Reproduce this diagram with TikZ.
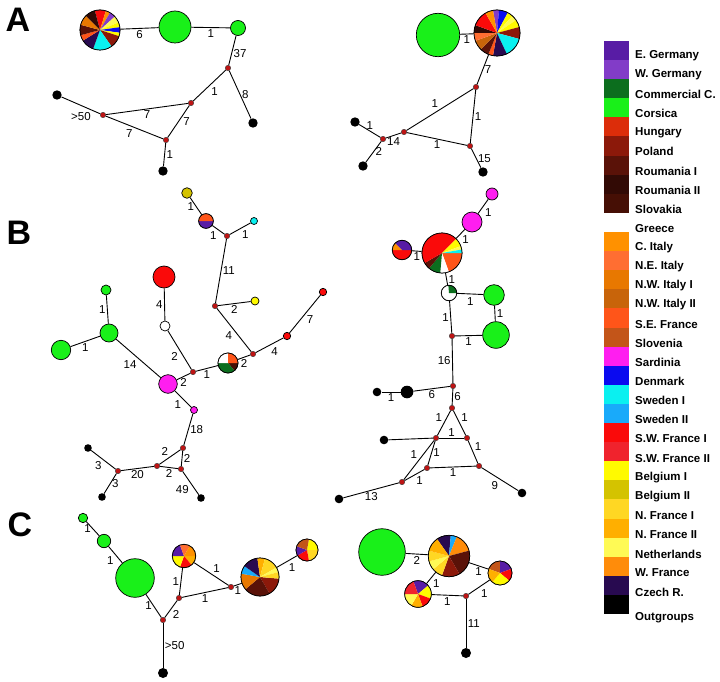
\documentclass[tikz,border=0pt]{standalone}
\usepackage{fontspec}
\setmainfont{Liberation Sans}
\usepackage{xcolor}
\usetikzlibrary{math}

\definecolor{EGermany}{RGB}{88,28,165}
\definecolor{WGermany}{RGB}{130,60,200}
\definecolor{CommC}{RGB}{12,110,30}
\definecolor{Corsica}{RGB}{25,240,25}
\definecolor{Hungary}{RGB}{220,45,10}
\definecolor{Poland}{RGB}{140,25,10}
\definecolor{RoumI}{RGB}{90,18,8}
\definecolor{RoumII}{RGB}{50,10,5}
\definecolor{Slovakia}{RGB}{70,15,5}
\definecolor{Greece}{RGB}{255,255,255}
\definecolor{CItaly}{RGB}{255,145,0}
\definecolor{NEItaly}{RGB}{255,110,50}
\definecolor{NWItalyI}{RGB}{232,120,0}
\definecolor{NWItalyII}{RGB}{200,100,10}
\definecolor{SEFrance}{RGB}{255,85,25}
\definecolor{Slovenia}{RGB}{195,85,25}
\definecolor{Sardinia}{RGB}{255,30,240}
\definecolor{Denmark}{RGB}{10,10,240}
\definecolor{SwedenI}{RGB}{10,240,240}
\definecolor{SwedenII}{RGB}{25,170,250}
\definecolor{SWFranceI}{RGB}{250,10,10}
\definecolor{SWFranceII}{RGB}{240,35,45}
\definecolor{BelgiumI}{RGB}{255,250,0}
\definecolor{BelgiumII}{RGB}{212,195,0}
\definecolor{NFranceI}{RGB}{255,215,35}
\definecolor{NFranceII}{RGB}{255,175,0}
\definecolor{Netherlands}{RGB}{255,250,85}
\definecolor{WFrance}{RGB}{255,140,10}
\definecolor{CzechR}{RGB}{40,10,80}
\definecolor{Outgroup}{RGB}{0,0,0}
\definecolor{median}{RGB}{190,20,20}

\tikzset{
hap/.style={circle, draw=black, line width=0.7pt, inner sep=0pt, minimum size=2*#1},
med/.style={circle, draw=black!75, fill=median, line width=0.4pt, inner sep=0pt, minimum size=5.5},
outg/.style={circle, fill=black, inner sep=0pt, minimum size=2*#1},
link/.style={line width=0.9pt},
lab/.style={font=\fontsize{11.5}{13}\selectfont, inner sep=1.5pt},
leg/.style={font=\fontsize{11.5}{13}\selectfont\bfseries, inner sep=0pt, anchor=west},
panel/.style={font=\fontsize{34}{34}\selectfont\bfseries, inner sep=0pt},
}

% slices: screen angles, clockwise from east
\newcommand{\hapie}[3]{%
\foreach \angA/\angB/\slcol in {#3}{
\fill[\slcol] (#1.center) -- ++(\angA:#2) arc[start angle=\angA, end angle=\angB, radius=#2] -- cycle;
}
\draw[line width=0.7pt] (#1.center) circle[radius=#2];
}

\begin{document}
\begin{tikzpicture}[x=1pt,y=-1pt]
\tikzmath{
\boxh=19.1;
\txth=19.15;
}
\useasboundingbox (0,0) rectangle (720,682);

\node[panel] (pA) at (18,20) {A};
\node[panel] (pB) at (19,233) {B};
\node[panel] (pC) at (20,525) {C};

% A left
\node[hap=20] (aLpie) at (100,30) {};
\node[hap=16, fill=Corsica] (aLg1) at (175,27) {};
\node[hap=7.5, fill=Corsica] (aLg2) at (238,28) {};
\node[med] (aLm1) at (228,68) {};
\node[outg=4.7] (aLo1) at (253,123) {};
\node[med] (aLm2) at (191,103) {};
\node[med] (aLm3) at (103,115) {};
\node[outg=4.7] (aLo2) at (57,95) {};
\node[med] (aLm4) at (166,140) {};
\node[outg=4.7] (aLo3) at (163,171) {};

\draw[link] (aLpie) -- node[lab, below] {6} (aLg1);
\draw[link] (aLg1) -- node[lab, below] {1} (aLg2);
\draw[link] (aLg2) -- node[lab, right, pos=0.6] {37} (aLm1);
\draw[link] (aLm1) -- node[lab, right] {8} (aLo1);
\draw[link] (aLm1) -- node[lab, below right] {1} (aLm2);
\draw[link] (aLm2) -- node[lab, below] {7} (aLm3);
\draw[link] (aLm3) -- node[lab, below=5pt] {>50} (aLo2);
\draw[link] (aLm3) -- node[lab, below left] {7} (aLm4);
\draw[link] (aLm2) -- node[lab, right=3pt] {7} (aLm4);
\draw[link] (aLm4) -- node[lab, right] {1} (aLo3);

% A right
\node[hap=21.7, fill=Corsica] (aRg) at (438,35) {};
\node[hap=23] (aRpie) at (497,33) {};
\node[med] (aRm1) at (476,87) {};
\node[med] (aRm2) at (404,132) {};
\node[med] (aRm3) at (470,146) {};
\node[med] (aRm4) at (383,139) {};
\node[outg=4.7] (aRo1) at (355,122) {};
\node[outg=4.7] (aRo2) at (363,166) {};
\node[outg=4.7] (aRo3) at (483,172) {};

\draw[link] (aRg) -- node[lab, below] {1} (aRpie);
\draw[link] (aRpie) -- node[lab, right] {7} (aRm1);
\draw[link] (aRm1) -- node[lab, above left] {1} (aRm2);
\draw[link] (aRm1) -- node[lab, right] {1} (aRm3);
\draw[link] (aRm2) -- node[lab, below] {1} (aRm3);
\draw[link] (aRm2) -- node[lab, below] {14} (aRm4);
\draw[link] (aRm4) -- node[lab, above] {1} (aRo1);
\draw[link] (aRm4) -- node[lab, right] {2} (aRo2);
\draw[link] (aRm3) -- node[lab, right] {15} (aRo3);

% B left
\node[hap=5.3, fill=BelgiumII] (bLgold) at (187,193) {};
\node[hap=7.3] (bLpie1) at (206,221) {};
\node[med] (bLm1) at (227,236) {};
\node[hap=3.5, fill=SwedenI] (bLcyan) at (254,221) {};
\node[med] (bLm2) at (215,306) {};
\node[hap=4, fill=BelgiumI] (bLyel) at (255,301) {};
\node[med] (bLm3) at (253,354) {};
\node[hap=3.7, fill=SWFranceI] (bLred2) at (287,336) {};
\node[hap=3.7, fill=SWFranceI] (bLred3) at (323,292) {};
\node[hap=10] (bLpie2) at (228,363) {};
\node[hap=11, fill=SWFranceI] (bLred1) at (164,277) {};
\node[hap=5, fill=Greece] (bLwhite) at (165,326) {};
\node[med] (bLm4) at (193,372) {};
\node[hap=9.3, fill=Sardinia] (bLsar1) at (168,384) {};
\node[hap=5, fill=Corsica] (bLg1) at (106,290) {};
\node[hap=9, fill=Corsica] (bLg2) at (109,333) {};
\node[hap=9.7, fill=Corsica] (bLg3) at (61,350) {};
\node[hap=3.5, fill=Sardinia] (bLsar2) at (194,410) {};
\node[med] (bLm5) at (183,448) {};
\node[med] (bLm6) at (181,469) {};
\node[med] (bLm7) at (157,466) {};
\node[med] (bLm8) at (118,471) {};
\node[outg=3.8] (bLo1) at (88,448) {};
\node[outg=3.8] (bLo2) at (102,497) {};
\node[outg=3.8] (bLo3) at (201,498) {};

\draw[link] (bLgold) -- node[lab, left] {1} (bLpie1);
\draw[link] (bLpie1) -- node[lab, below left] {1} (bLm1);
\draw[link] (bLm1) -- node[lab, below right] {1} (bLcyan);
\draw[link] (bLm1) -- node[lab, right] {11} (bLm2);
\draw[link] (bLm2) -- node[lab, below] {2} (bLyel);
\draw[link] (bLm2) -- node[lab, below left] {4} (bLm3);
\draw[link] (bLm3) -- node[lab, below] {2} (bLpie2);
\draw[link] (bLm3) -- node[lab, below right] {4} (bLred2);
\draw[link] (bLred2) -- node[lab, below right] {7} (bLred3);
\draw[link] (bLpie2) -- node[lab, below] {1} (bLm4);
\draw[link] (bLwhite) -- node[lab, left] {4} (bLred1);
\draw[link] (bLwhite) -- node[lab, below left] {2} (bLm4);
\draw[link] (bLm4) -- node[lab, below] {2} (bLsar1);
\draw[link] (bLg1) -- node[lab, left] {1} (bLg2);
\draw[link] (bLg2) -- node[lab, below] {1} (bLg3);
\draw[link] (bLg2) -- node[lab, below left] {14} (bLsar1);
\draw[link] (bLsar1) -- node[lab, below left] {1} (bLsar2);
\draw[link] (bLsar2) -- node[lab, right] {18} (bLm5);
\draw[link] (bLm5) -- node[lab, right] {2} (bLm6);
\draw[link] (bLm5) -- node[lab, above left] {2} (bLm7);
\draw[link] (bLm6) -- node[lab, below] {2} (bLm7);
\draw[link] (bLm7) -- node[lab, below] {20} (bLm8);
\draw[link] (bLm8) -- node[lab, below left] {3} (bLo1);
\draw[link] (bLm8) -- node[lab, right] {3} (bLo2);
\draw[link] (bLm6) -- node[lab, below left] {49} (bLo3);

% B right
\node[hap=6, fill=Sardinia] (bRsar1) at (492,194) {};
\node[hap=10, fill=Sardinia] (bRsar2) at (472,222) {};
\node[hap=20] (bRpie1) at (442,253) {};
\node[hap=9.7] (bRpie2) at (402,250) {};
\node[hap=7.7] (bRpie3) at (449,293) {};
\node[hap=10.3, fill=Corsica] (bRg1) at (494,295) {};
\node[hap=13.3, fill=Corsica] (bRg2) at (496,335) {};
\node[med] (bRm1) at (452,336) {};
\node[med] (bRm2) at (453,386) {};
\node[outg=6.3] (bRo1) at (407,392) {};
\node[outg=4.3] (bRo2) at (377,392) {};
\node[med] (bRm3) at (452,408) {};
\node[med] (bRm4) at (436,438) {};
\node[med] (bRm5) at (467,438) {};
\node[outg=4.3] (bRo3) at (384,440) {};
\node[med] (bRm6) at (427,468) {};
\node[med] (bRm7) at (479,466) {};
\node[med] (bRm8) at (402,482) {};
\node[outg=4.3] (bRo4) at (339,499) {};
\node[outg=4.3] (bRo5) at (522,493) {};

\draw[link] (bRsar1) -- node[lab, below right] {1} (bRsar2);
\draw[link] (bRsar2) -- node[lab, below right] {1} (bRpie1);
\draw[link] (bRpie1) -- node[lab, below] {1} (bRpie2);
\draw[link] (bRpie1) -- node[lab, right] {1} (bRpie3);
\draw[link] (bRpie3) -- node[lab, below=2pt] {1} (bRg1);
\draw[link] (bRg1) -- node[lab, right] {1} (bRg2);
\draw[link] (bRpie3) -- node[lab, left] {1} (bRm1);
\draw[link] (bRm1) -- node[lab, below] {1} (bRg2);
\draw[link] (bRm1) -- node[lab, left] {16} (bRm2);
\draw[link] (bRm2) -- node[lab, below] {6} (bRo1);
\draw[link] (bRo1) -- node[lab, below] {1} (bRo2);
\draw[link] (bRm2) -- node[lab, right] {6} (bRm3);
\draw[link] (bRm3) -- node[lab, above left] {1} (bRm4);
\draw[link] (bRm3) -- node[lab, above right] {1} (bRm5);
\draw[link] (bRm4) -- node[lab, above] {1} (bRm5);
\draw[link] (bRm4) -- (bRo3);
\draw[link] (bRm5) -- node[lab, above right] {1} (bRm7);
\draw[link] (bRm4) -- node[lab, right] {1} (bRm6);
\draw[link] (bRm4) -- node[lab, above left] {1} (bRm8);
\draw[link] (bRm6) -- node[lab, below] {1} (bRm7);
\draw[link] (bRm6) -- node[lab, below right] {1} (bRm8);
\draw[link] (bRm8) -- node[lab, below] {13} (bRo4);
\draw[link] (bRm7) -- node[lab, below left] {9} (bRo5);

% C left
\node[hap=4.7, fill=Corsica] (cLg1) at (83,518) {};
\node[hap=6.7, fill=Corsica] (cLg2) at (104,541) {};
\node[hap=19.3, fill=Corsica] (cLg3) at (135,578) {};
\node[med] (cLm1) at (163,620) {};
\node[outg=5] (cLo) at (163,673) {};
\node[med] (cLm2) at (179,598) {};
\node[hap=11.7] (cLpie1) at (184,556) {};
\node[med] (cLm3) at (231,587) {};
\node[hap=19] (cLpie2) at (260,577) {};
\node[hap=11] (cLpie3) at (307,550) {};

\draw[link] (cLg1) -- node[lab, left] {1} (cLg2);
\draw[link] (cLg2) -- node[lab, below left] {1} (cLg3);
\draw[link] (cLg3) -- node[lab, left] {1} (cLm1);
\draw[link] (cLm1) -- node[lab, right] {>50} (cLo);
\draw[link] (cLm1) -- node[lab, below right] {2} (cLm2);
\draw[link] (cLm2) -- node[lab, left] {1} (cLpie1);
\draw[link] (cLm2) -- node[lab, below] {1} (cLm3);
\draw[link] (cLpie1) -- node[lab, above right] {1} (cLm3);
\draw[link] (cLm3) -- node[lab, below] {1} (cLpie2);
\draw[link] (cLpie2) -- node[lab, below right] {1} (cLpie3);

% C right
\node[hap=23.3, fill=Corsica] (cRg) at (382,552) {};
\node[hap=20.7] (cRpie1) at (449,556) {};
\node[hap=12] (cRpie2) at (500,573) {};
\node[hap=13.3] (cRpie3) at (418,594) {};
\node[med] (cRm) at (466,596) {};
\node[outg=5] (cRo) at (466,653) {};

\draw[link] (cRg) -- node[lab, below] {2} (cRpie1);
\draw[link] (cRpie1) -- node[lab, below] {1} (cRpie2);
\draw[link] (cRpie1) -- node[lab, below right] {1} (cRpie3);
\draw[link] (cRpie3) -- node[lab, below] {1} (cRm);
\draw[link] (cRm) -- node[lab, below right] {1} (cRpie2);
\draw[link] (cRm) -- node[lab, right] {11} (cRo);

% pies
\hapie{aLpie}{20}{255/287/SWFranceI, 287/300/CItaly, 300/318/WGermany, 318/338/Netherlands, 338/352/BelgiumI, 352/368/Denmark, 368/378/BelgiumI, 18/55/Poland, 55/110/SwedenI, 110/148/CzechR, 148/165/SEFrance, 165/195/RoumI, 195/225/NWItalyI, 225/255/RoumII}
\hapie{aRpie}{23}{260/275/WGermany, 275/298/Denmark, 298/312/BelgiumI, 312/326/Netherlands, 326/345/BelgiumI, 345/375/Poland, 15/65/SwedenI, 65/100/CzechR, 100/112/SEFrance, 112/135/RoumI, 135/160/NWItalyII, 160/180/NEItaly, 180/200/RoumII, 200/240/SWFranceI, 240/260/CItaly}
\hapie{bLpie1}{7.3}{0/180/EGermany, 180/360/SEFrance}
\hapie{bLpie2}{10}{0/50/Slovakia, 50/180/CommC, 180/270/Greece, 270/360/SEFrance}
\hapie{bRpie1}{20}{0/70/SEFrance, 70/95/Greece, 95/130/CommC, 130/150/RoumI, 150/315/SWFranceI, 315/340/BelgiumI, 340/350/Netherlands, 350/360/SwedenI}
\hapie{bRpie2}{9.7}{0/180/SWFranceI, 180/225/CItaly, 225/360/EGermany}
\hapie{bRpie3}{7.7}{0/265/Greece, 265/360/CommC}
\hapie{cLpie1}{11.7}{0/50/NFranceII, 50/110/SWFranceI, 110/180/BelgiumI, 180/250/EGermany, 250/300/NEItaly, 300/360/CItaly}
\hapie{cLpie2}{19}{5/60/Poland, 60/140/RoumI, 140/190/NWItalyI, 190/215/SwedenII, 215/262/CzechR, 262/285/NFranceII, 285/330/NFranceI, 330/345/Netherlands, 345/365/NFranceI}
\hapie{cLpie3}{11}{280/360/BelgiumI, 0/80/NFranceI, 80/150/SWFranceI, 150/200/EGermany, 200/280/Slovenia}
\hapie{cRpie1}{20.7}{235/275/CzechR, 275/292/SwedenII, 292/345/WFrance, 345/420/RoumI, 60/110/Poland, 110/140/NFranceI, 140/165/Netherlands, 165/195/NFranceI, 195/235/NFranceII}
\hapie{cRpie2}{12}{200/270/Slovenia, 270/340/EGermany, 340/400/SWFranceI, 40/130/BelgiumI, 130/200/NFranceII}
\hapie{cRpie3}{13.3}{250/320/EGermany, 320/380/BelgiumI, 20/70/SWFranceI, 70/120/NFranceII, 120/180/Netherlands, 180/250/SWFranceII}

% legend
\foreach \nm/\cl [count=\k from 0] in {E. Germany/EGermany, W. Germany/WGermany, Commercial C./CommC, Corsica/Corsica, Hungary/Hungary, Poland/Poland, Roumania I/RoumI, Roumania II/RoumII, Slovakia/Slovakia, Greece/Greece, C. Italy/CItaly, N.E. Italy/NEItaly, N.W. Italy I/NWItalyI, N.W. Italy II/NWItalyII, S.E. France/SEFrance, Slovenia/Slovenia, Sardinia/Sardinia, Denmark/Denmark, Sweden I/SwedenI, Sweden II/SwedenII, S.W. France I/SWFranceI, S.W. France II/SWFranceII, Belgium I/BelgiumI, Belgium II/BelgiumII, N. France I/NFranceI, N. France II/NFranceII, Netherlands/Netherlands, W. France/WFrance, Czech R./CzechR, Outgroups/Outgroup}{
\fill[\cl] (604,41+\boxh*\k) rectangle ++(25,\boxh);
\node[leg] (leg\k) at (635,{56+\txth*\k+6*(\k==29)}) {\nm};
}

\end{tikzpicture}
\end{document}
